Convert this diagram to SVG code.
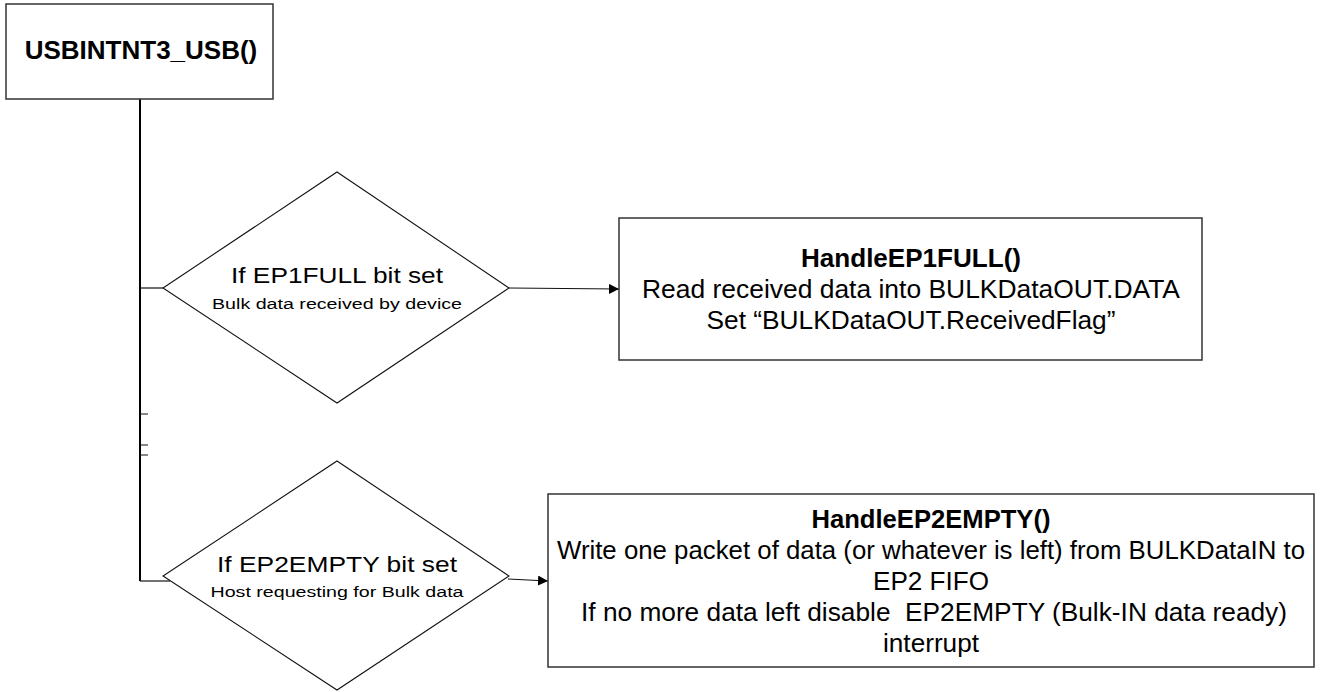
<svg xmlns="http://www.w3.org/2000/svg" width="1320" height="692" viewBox="0 0 1320 692">
  <defs>
    <marker id="arrow" viewBox="0 0 10 10" refX="10" refY="5" markerWidth="10" markerHeight="10" markerUnits="userSpaceOnUse" orient="auto">
      <path d="M0,0 L10,5 L0,10 z" fill="#000"/>
    </marker>
    <style>
      .box { fill: #fff; stroke: #333; stroke-width: 1.5; }
      .dia { fill: #fff; stroke: #111; stroke-width: 1.1; }
      .trunk { fill: none; stroke: #000; stroke-width: 2; }
      .link { fill: none; stroke: #111; stroke-width: 1.2; }
      .t { font-family: "Liberation Sans", Arial, sans-serif; fill: #000; text-anchor: middle; white-space: pre; }
      .title { font-size: 26px; font-weight: bold; }
      .dmain { font-size: 22px; }
      .dsub { font-size: 15.5px; }
      .bhead { font-size: 26.5px; font-weight: bold; }
      .btxt { font-size: 26.5px; }
      .wide { font-size: 25.5px; }
    </style>
  </defs>
  <rect width="1320" height="692" fill="#fff"/>

  <!-- trunk line, branch stubs and arrows -->
  <g id="connectors">
    <path class="trunk" d="M140,99 V581"/>
    <path class="link" d="M140,288 H163"/>
    <path class="link" d="M140,581 H170"/>
    <path class="link" d="M140,414 H148 M140,445 H148 M140,455 H148"/>
    <path class="link" d="M509,288 L619,289" marker-end="url(#arrow)"/>
    <path class="link" d="M508,579 L548,581" marker-end="url(#arrow)"/>
  </g>

  <g id="start">
    <rect class="box" x="6" y="4" width="267" height="95"/>
    <text class="t title" x="141" y="59">USBINTNT3_USB()</text>
  </g>

  <g id="check-ep1full">
    <polygon class="dia" points="337,172 509,288 337,403 163,288"/>
    <text class="t dmain" x="337" y="283" textLength="212" lengthAdjust="spacingAndGlyphs">If EP1FULL bit set</text>
    <text class="t dsub" x="337" y="309" textLength="250" lengthAdjust="spacingAndGlyphs">Bulk data received by device</text>
  </g>

  <g id="handle-ep1full">
    <rect class="box" x="619" y="218" width="583" height="142"/>
    <text class="t bhead" x="911" y="267" textLength="220" lengthAdjust="spacingAndGlyphs">HandleEP1FULL()</text>
    <text class="t btxt" x="911" y="298" textLength="538" lengthAdjust="spacingAndGlyphs">Read received data into BULKDataOUT.DATA</text>
    <text class="t btxt" x="911" y="329" textLength="409" lengthAdjust="spacingAndGlyphs">Set “BULKDataOUT.ReceivedFlag”</text>
  </g>

  <g id="check-ep2empty">
    <polygon class="dia" points="337,461 509,576 337,690 163,576"/>
    <text class="t dmain" x="337" y="572" textLength="240" lengthAdjust="spacingAndGlyphs">If EP2EMPTY bit set</text>
    <text class="t dsub" x="337" y="597" textLength="253" lengthAdjust="spacingAndGlyphs">Host requesting for Bulk data</text>
  </g>

  <g id="handle-ep2empty">
    <rect class="box" x="548" y="494" width="766" height="173"/>
    <text class="t bhead" x="931" y="528" textLength="239" lengthAdjust="spacingAndGlyphs">HandleEP2EMPTY()</text>
    <text class="t btxt wide" x="931" y="559" textLength="748" lengthAdjust="spacingAndGlyphs">Write one packet of data (or whatever is left) from BULKDataIN to</text>
    <text class="t btxt" x="931" y="590" textLength="116" lengthAdjust="spacingAndGlyphs">EP2 FIFO</text>
    <text class="t btxt" x="934" y="621" textLength="706" lengthAdjust="spacingAndGlyphs">If no more data left disable  EP2EMPTY (Bulk-IN data ready)</text>
    <text class="t btxt" x="931" y="652" textLength="96" lengthAdjust="spacingAndGlyphs">interrupt</text>
  </g>
</svg>
